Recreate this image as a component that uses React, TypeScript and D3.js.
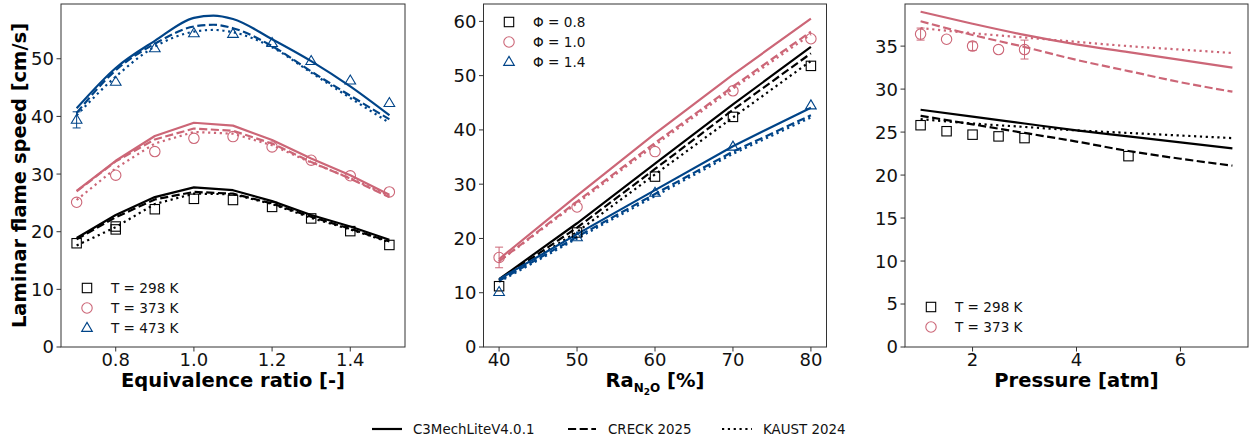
import React from "react";
import * as d3 from "d3";

const BLACK = "#000000";
const PINK = "#CC6677";
const BLUE = "#004488";

// Panel 1: equivalence ratio
const phiExp = [0.7, 0.8, 0.9, 1.0, 1.1, 1.2, 1.3, 1.4, 1.5];
const exp298 = [18.0, 20.9, 23.9, 25.7, 25.5, 24.3, 22.3, 20.1, 17.7];
const exp298b = [null, 20.4, null, null, null, null, null, null, null];
const exp373 = [25.1, 29.8, 33.9, 36.2, 36.5, 34.7, 32.4, 29.7, 26.9];
const exp473 = [39.4, 46.0, 51.8, 54.4, 54.3, 52.7, 49.6, 46.2, 42.3];
const err473 = [1.4, 0, 0, 0, 0, 0, 0, 0, 0];

const phiSim = [0.7, 0.8, 0.9, 1.0, 1.1, 1.2, 1.3, 1.4, 1.5];
const c3_298 = [18.9, 22.9, 26.0, 27.7, 27.2, 25.3, 22.9, 20.9, 18.6];
const creck_298 = [18.7, 22.5, 25.6, 26.9, 26.6, 24.9, 22.6, 20.5, 18.3];
const kaust_298 = [17.6, 20.8, 24.8, 26.6, 26.5, 24.8, 22.4, 20.4, 18.2];
const c3_373 = [27.1, 32.3, 36.6, 38.9, 38.4, 35.9, 32.7, 29.8, 26.4];
const creck_373 = [27.0, 32.2, 36.0, 37.9, 37.5, 35.3, 32.1, 29.2, 26.0];
const kaust_373 = [25.5, 31.0, 35.3, 37.3, 37.0, 35.0, 32.0, 29.3, 26.2];

const phiSimFine = [0.7, 0.8, 0.9, 1.0, 1.05, 1.1, 1.2, 1.3, 1.4, 1.5];
const c3_473 = [41.4, 48.4, 53.1, 57.1, 57.5, 56.9, 53.4, 49.6, 45.2, 40.2];
const creck_473 = [40.6, 48.0, 52.6, 55.6, 55.9, 55.3, 52.2, 47.8, 43.6, 39.5];
const kaust_473 = [40.2, 46.9, 52.1, 54.7, 55.0, 54.6, 52.0, 47.6, 43.2, 38.9];

// Panel 2: N2O ratio
const raExp = [40, 50, 60, 70, 80];
const expPhi08 = [11.2, 21.1, 31.4, 42.4, 51.8];
const expPhi10 = [16.5, 25.8, 36.0, 47.2, 56.8];
const errPhi10 = [1.9, 0, 0, 0, 0];
const expPhi14 = [10.1, 20.2, 28.4, 36.9, 44.5];
const raSim = [40, 50, 60, 70, 80];
const c3_phi08 = [12.5, 22.8, 33.8, 44.7, 55.3];
const creck_phi08 = [12.3, 22.0, 32.8, 43.7, 54.1];
const kaust_phi08 = [12.2, 21.2, 31.8, 42.3, 52.7];
const c3_phi10 = [16.2, 27.9, 39.3, 50.2, 60.5];
const creck_phi10 = [15.8, 26.8, 37.6, 48.0, 58.1];
const kaust_phi10 = [15.8, 26.5, 37.2, 47.6, 57.6];
const c3_phi14 = [12.5, 20.8, 28.9, 37.0, 44.1];
const creck_phi14 = [12.2, 20.3, 28.2, 36.0, 42.7];
const kaust_phi14 = [12.0, 20.0, 27.8, 35.6, 42.3];

// Panel 3: pressure
const pExp298 = [1, 1.5, 2, 2.5, 3, 5];
const exp298P = [25.8, 25.1, 24.7, 24.5, 24.3, 22.2];
const pExp373 = [1, 1.5, 2, 2.5, 3];
const exp373P = [36.4, 35.8, 35.0, 34.6, 34.6];
const err373P = [0.7, 0, 0.5, 0, 1.1];
const pSim = [1, 2, 3, 4, 5, 6, 7];
const c3_298P = [27.6, 26.8, 26.0, 25.2, 24.5, 23.8, 23.1];
const creck_298P = [26.9, 25.9, 24.9, 23.9, 22.8, 21.9, 21.1];
const kaust_298P = [26.5, 26.0, 25.6, 25.2, 24.9, 24.6, 24.3];
const c3_373P = [39.0, 37.6, 36.3, 35.2, 34.3, 33.4, 32.5];
const creck_373P = [37.9, 36.3, 34.9, 33.4, 32.1, 30.8, 29.7];
const kaust_373P = [37.1, 36.5, 36.0, 35.5, 35.0, 34.6, 34.2];

const xTicks1 = [0.8, 1.0, 1.2, 1.4];
const yTicks1 = [0, 10, 20, 30, 40, 50];
const xTicks2 = [40, 50, 60, 70, 80];
const yTicks2 = [0, 10, 20, 30, 40, 50, 60];
const xTicks3 = [2, 4, 6];
const yTicks3 = [0, 5, 10, 15, 20, 25, 30, 35];

const legend1 = ["T = 298 K", "T = 373 K", "T = 473 K"];
const legend2 = ["Φ = 0.8", "Φ = 1.0", "Φ = 1.4"];
const legend3 = ["T = 298 K", "T = 373 K"];
const modelNames = ["C3MechLiteV4.0.1", "CRECK 2025", "KAUST 2024"];

const FONT = "DejaVu Sans, sans-serif";
const LW = 2.2;
const DASH: Record<string, string | undefined> = {
  solid: undefined,
  dashed: `${3.7 * LW},${1.6 * LW}`,
  dotted: `${1 * LW},${1.65 * LW}`,
};
const STYLES = ["solid", "dashed", "dotted"];

type Marker = "square" | "circle" | "triangle";

function MarkerShape({ type, x, y, color }: { type: Marker; x: number; y: number; color: string }) {
  if (type === "square") {
    return <rect x={x - 4.7} y={y - 4.7} width={9.4} height={9.4} fill="none" stroke={color} strokeWidth={1.1} />;
  }
  if (type === "circle") {
    return <circle cx={x} cy={y} r={5.2} fill="none" stroke={color} strokeWidth={1.1} />;
  }
  const s = 5.6;
  return (
    <path
      d={`M${x},${y - s} L${x + s * 0.95},${y + s * 0.6} L${x - s * 0.95},${y + s * 0.6} Z`}
      fill="none"
      stroke={color}
      strokeWidth={1.1}
    />
  );
}

type LineSpec = { xs: number[]; ys: number[]; color: string; style: string; smooth?: boolean };
type PointSpec = { xs: number[]; ys: (number | null)[]; err?: number[]; color: string; marker: Marker };

type PanelProps = {
  left: number;
  right: number;
  top: number;
  bottom: number;
  xDomain: [number, number];
  yDomain: [number, number];
  xTicks: number[];
  yTicks: number[];
  xFmt: (v: number) => string;
  xLabel: React.ReactNode;
  lines: LineSpec[];
  points: PointSpec[];
  legend: { label: string; color: string; marker: Marker }[];
  legendX: number;
  legendY: number;
};

function Panel(p: PanelProps) {
  const x = d3.scaleLinear().domain(p.xDomain).range([p.left, p.right]);
  const y = d3.scaleLinear().domain(p.yDomain).range([p.bottom, p.top]);
  const clipId = `clip-${Math.round(p.left)}`;
  return (
    <g>
      <defs>
        <clipPath id={clipId}>
          <rect x={p.left} y={p.top} width={p.right - p.left} height={p.bottom - p.top} />
        </clipPath>
      </defs>
      <g clipPath={`url(#${clipId})`}>
        {p.lines.map((l, i) => {
          const gen = d3
            .line<number>()
            .x((_, j) => x(l.xs[j]))
            .y((v) => y(v))
            .curve(l.smooth ? d3.curveMonotoneX : d3.curveLinear);
          return (
            <path
              key={i}
              d={gen(l.ys) || ""}
              fill="none"
              stroke={l.color}
              strokeWidth={LW}
              strokeDasharray={DASH[l.style]}
              strokeLinecap="butt"
              strokeLinejoin="round"
            />
          );
        })}
        {p.points.map((pt, i) => (
          <g key={i}>
            {pt.xs.map((xv, j) => {
              const yv = pt.ys[j];
              if (yv === null || yv === undefined) return null;
              const e = pt.err ? pt.err[j] : 0;
              return (
                <g key={j}>
                  {e > 0 && (
                    <g stroke={pt.color} strokeWidth={1}>
                      <line x1={x(xv)} x2={x(xv)} y1={y(yv - e)} y2={y(yv + e)} />
                      <line x1={x(xv) - 4} x2={x(xv) + 4} y1={y(yv - e)} y2={y(yv - e)} />
                      <line x1={x(xv) - 4} x2={x(xv) + 4} y1={y(yv + e)} y2={y(yv + e)} />
                    </g>
                  )}
                  <MarkerShape type={pt.marker} x={x(xv)} y={y(yv)} color={pt.color} />
                </g>
              );
            })}
          </g>
        ))}
      </g>
      <rect
        x={p.left}
        y={p.top}
        width={p.right - p.left}
        height={p.bottom - p.top}
        fill="none"
        stroke="#333"
        strokeWidth={1}
      />
      {p.xTicks.map((t) => (
        <g key={`xt${t}`}>
          <line x1={x(t)} x2={x(t)} y1={p.bottom} y2={p.bottom + 4.5} stroke="#333" strokeWidth={1} />
          <text x={x(t)} y={p.bottom + 19} textAnchor="middle" fontFamily={FONT} fontSize={18} fill="#111">
            {p.xFmt(t)}
          </text>
        </g>
      ))}
      {p.yTicks.map((t) => (
        <g key={`yt${t}`}>
          <line x1={p.left - 4.5} x2={p.left} y1={y(t)} y2={y(t)} stroke="#333" strokeWidth={1} />
          <text
            x={p.left - 7}
            y={y(t)}
            dy="0.36em"
            textAnchor="end"
            fontFamily={FONT}
            fontSize={18}
            fill="#111"
          >
            {t}
          </text>
        </g>
      ))}
      <text
        x={(p.left + p.right) / 2}
        y={p.bottom + 40}
        textAnchor="middle"
        fontFamily={FONT}
        fontWeight="bold"
        fontSize={19.5}
        fill="#000"
      >
        {p.xLabel}
      </text>
      {p.legend.map((lg, i) => (
        <g key={`lg${i}`}>
          <MarkerShape type={lg.marker} x={p.legendX} y={p.legendY + i * 20} color={lg.color} />
          <text
            x={p.legendX + 24}
            y={p.legendY + i * 20}
            dy="0.36em"
            fontFamily={FONT}
            fontSize={13.6}
            fill="#111"
          >
            {lg.label}
          </text>
        </g>
      ))}
    </g>
  );
}

function simLines(xs: number[], sets: number[][], color: string, smooth = false): LineSpec[] {
  return sets.map((ys, i) => ({ xs, ys, color, style: STYLES[i], smooth }));
}

export default function App() {
  const W = 1252;
  const H = 444;
  const top = 4;
  const bottom = 347;

  const fmt1 = (v: number) => v.toFixed(1);
  const fmt0 = (v: number) => String(v);

  const legendEntries = [
    { x1: 372, x2: 402, tx: 413, style: "solid" },
    { x1: 568, x2: 596, tx: 608, style: "dashed" },
    { x1: 722, x2: 752, tx: 763, style: "dotted" },
  ];

  return (
    <svg width={W} height={H} style={{ display: "block", position: "absolute", left: 0, top: 0 }}>
      <rect width={W} height={H} fill="#fff" />
      <Panel
        left={61}
        right={405}
        top={top}
        bottom={bottom}
        xDomain={[0.66, 1.54]}
        yDomain={[0, 59.5]}
        xTicks={xTicks1}
        yTicks={yTicks1}
        xFmt={fmt1}
        xLabel="Equivalence ratio [-]"
        lines={[
          ...simLines(phiSim, [c3_298, creck_298, kaust_298], BLACK),
          ...simLines(phiSim, [c3_373, creck_373, kaust_373], PINK),
          ...simLines(phiSimFine, [c3_473, creck_473, kaust_473], BLUE, true),
        ]}
        points={[
          { xs: phiExp, ys: exp298, color: BLACK, marker: "square" },
          { xs: phiExp, ys: exp298b, color: BLACK, marker: "square" },
          { xs: phiExp, ys: exp373, color: PINK, marker: "circle" },
          { xs: phiExp, ys: exp473, err: err473, color: BLUE, marker: "triangle" },
        ]}
        legend={[
          { label: legend1[0], color: BLACK, marker: "square" },
          { label: legend1[1], color: PINK, marker: "circle" },
          { label: legend1[2], color: BLUE, marker: "triangle" },
        ]}
        legendX={87}
        legendY={288}
      />
      <Panel
        left={483.5}
        right={826.5}
        top={top}
        bottom={bottom}
        xDomain={[38, 82]}
        yDomain={[0, 63.2]}
        xTicks={xTicks2}
        yTicks={yTicks2}
        xFmt={fmt0}
        xLabel={
          <>
            Ra
            <tspan fontSize={12} dy={5}>
              N
            </tspan>
            <tspan fontSize={9} dy={3}>
              2
            </tspan>
            <tspan fontSize={12} dy={-3}>
              O
            </tspan>
            <tspan dy={-5}> [%]</tspan>
          </>
        }
        lines={[
          ...simLines(raSim, [c3_phi10, creck_phi10, kaust_phi10], PINK),
          ...simLines(raSim, [c3_phi08, creck_phi08, kaust_phi08], BLACK),
          ...simLines(raSim, [c3_phi14, creck_phi14, kaust_phi14], BLUE),
        ]}
        points={[
          { xs: raExp, ys: expPhi08, color: BLACK, marker: "square" },
          { xs: raExp, ys: expPhi10, err: errPhi10, color: PINK, marker: "circle" },
          { xs: raExp, ys: expPhi14, color: BLUE, marker: "triangle" },
        ]}
        legend={[
          { label: legend2[0], color: BLACK, marker: "square" },
          { label: legend2[1], color: PINK, marker: "circle" },
          { label: legend2[2], color: BLUE, marker: "triangle" },
        ]}
        legendX={509}
        legendY={22}
      />
      <Panel
        left={905}
        right={1248}
        top={top}
        bottom={bottom}
        xDomain={[0.7, 7.3]}
        yDomain={[0, 39.9]}
        xTicks={xTicks3}
        yTicks={yTicks3}
        xFmt={fmt0}
        xLabel="Pressure [atm]"
        lines={[
          ...simLines(pSim, [c3_298P, creck_298P, kaust_298P], BLACK, true),
          ...simLines(pSim, [c3_373P, creck_373P, kaust_373P], PINK, true),
        ]}
        points={[
          { xs: pExp298, ys: exp298P, color: BLACK, marker: "square" },
          { xs: pExp373, ys: exp373P, err: err373P, color: PINK, marker: "circle" },
        ]}
        legend={[
          { label: legend3[0], color: BLACK, marker: "square" },
          { label: legend3[1], color: PINK, marker: "circle" },
        ]}
        legendX={931}
        legendY={307}
      />
      <text
        transform={`translate(26,${(top + bottom) / 2}) rotate(-90)`}
        textAnchor="middle"
        fontFamily={FONT}
        fontWeight="bold"
        fontSize={19.5}
        fill="#000"
      >
        Laminar flame speed [cm/s]
      </text>
      {legendEntries.map((e, i) => (
        <g key={`ml${i}`}>
          <line
            x1={e.x1}
            x2={e.x2}
            y1={429}
            y2={429}
            stroke="#000"
            strokeWidth={LW}
            strokeDasharray={DASH[e.style]}
          />
          <text x={e.tx} y={429} dy="0.36em" fontFamily={FONT} fontSize={13.4} fill="#111">
            {modelNames[i]}
          </text>
        </g>
      ))}
    </svg>
  );
}
